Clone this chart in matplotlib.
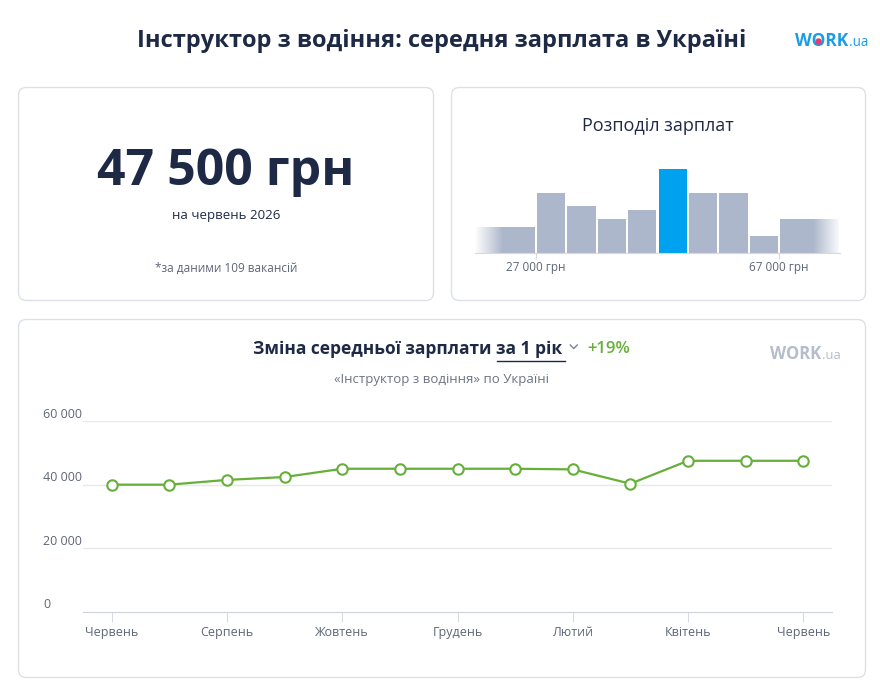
import matplotlib
matplotlib.use("Agg")
import matplotlib.pyplot as plt
import numpy as np
from matplotlib.patches import FancyBboxPatch, Circle
from matplotlib.transforms import blended_transform_factory, ScaledTranslation

plt.rcParams['font.family'] = ['Open Sans', 'DejaVu Sans']

# ---------------- data ----------------
title = "Інструктор з водіння: середня зарплата в Україні"
avg_salary_label = "47 500 грн"
period_label = "на червень 2026"
source_note = "*за даними 109 вакансій"
dist_title = "Розподіл зарплат"

bin_edges = [17000, 27000, 32000, 37000, 42000, 47000, 52000, 57000, 62000, 67000, 77000]
bin_heights = [31, 71, 56, 40, 51, 100, 71, 71, 20, 40]
highlight_bin = 5
hist_ticks = [27000, 67000]
hist_tick_labels = ["27 000 грн", "67 000 грн"]

change_title = "Зміна середньої зарплати"
period_choice = "за 1 рік"
change_pct = "+19%"
change_subtitle = "«Інструктор з водіння» по Україні"

months = ["Червень", "Липень", "Серпень", "Вересень", "Жовтень", "Листопад", "Грудень",
          "Січень", "Лютий", "Березень", "Квітень", "Травень", "Червень"]
salaries = [40000, 40000, 41500, 42400, 45000, 45000, 45000, 45000, 44800, 40300, 47500, 47500, 47500]
y_ticks = [0, 20000, 40000, 60000]
y_tick_labels = ["0", "20 000", "40 000", "60 000"]

# ---------------- styles ----------------
DARK = '#1e2a45'
GRAY_TXT = '#5d6776'
BAR_GRAY = '#adb7cb'
BAR_BLUE = '#00a2ef'
GREEN = '#66b03a'
LOGO_BLUE = '#1b9de6'

W, H = 880, 684
fig = plt.figure(figsize=(W / 100, H / 100), dpi=100)
bg = fig.add_axes([0, 0, 1, 1])
bg.set_xlim(0, W)
bg.set_ylim(H, 0)
bg.axis('off')


def card(x0, y0, x1, y1):
    p = FancyBboxPatch((x0, y0), x1 - x0, y1 - y0,
                       boxstyle="round,pad=0,rounding_size=8",
                       fc='white', ec='#dde1e7', lw=1, zorder=0)
    bg.add_patch(p)


card(18.5, 87.5, 433.5, 300.5)
card(451.5, 87.5, 865.5, 300.5)
card(18.5, 319.5, 865.5, 677.5)

# title
bg.text(442, 41, title, ha='center', va='center', fontsize=17,
        fontweight='bold', color=DARK)

fig.canvas.draw()
renderer = fig.canvas.get_renderer()


def text_width(s, size, weight):
    tmp = bg.text(0, 0, s, fontsize=size, fontweight=weight)
    w = tmp.get_window_extent(renderer).width
    tmp.remove()
    return w


def logo(x, y, size, color, dot=True):
    t1 = bg.text(x, y, "WORK", ha='left', va='center', fontsize=size,
                 fontweight='bold', color=color)
    ext = t1.get_window_extent(renderer)
    bg.text(ext.x1 + 1, y + size * 0.12, ".ua", ha='left', va='center',
            fontsize=size * 0.78, color=color)
    if dot:
        ww = text_width("W", size, 'bold')
        wo = text_width("WO", size, 'bold')
        cx = x + (ww + wo) / 2
        bg.add_patch(Circle((cx, y + 0.5), size * 0.2, color='#e8386e', zorder=5))


logo(795, 41, 12.5, LOGO_BLUE, dot=True)

# card 1
bg.text(226, 172, avg_salary_label, ha='center', va='center', fontsize=36,
        fontweight='bold', color=DARK)
bg.text(226, 215, period_label, ha='center', va='center', fontsize=9.5, color=DARK)
bg.text(226, 268, source_note, ha='center', va='center', fontsize=8.5, color=GRAY_TXT)

# card 2 - histogram
bg.text(658, 126, dist_title, ha='center', va='center', fontsize=13, color=DARK)
hx = fig.add_axes([475 / W, 1 - 253 / H, (840 - 475) / W, (253 - 169) / H])
hx.patch.set_visible(False)
gap = 330
for i, h in enumerate(bin_heights):
    left = bin_edges[i] + gap / 2
    width = bin_edges[i + 1] - bin_edges[i] - gap
    hx.bar(left, h, width=width, align='edge',
           color=BAR_BLUE if i == highlight_bin else BAR_GRAY, zorder=2)
grad = np.ones((1, 256, 4))
grad[0, :, 3] = np.linspace(1, 0, 256)
hx.imshow(grad, extent=[bin_edges[0], bin_edges[0] + 4500, 0, 100],
          aspect='auto', zorder=3, interpolation='bilinear')
grad_r = np.ones((1, 256, 4))
grad_r[0, :, 3] = np.linspace(0, 1, 256)
hx.imshow(grad_r, extent=[bin_edges[-1] - 4500, bin_edges[-1], 0, 100],
          aspect='auto', zorder=3, interpolation='bilinear')
hx.set_xlim(bin_edges[0], bin_edges[-1])
hx.set_ylim(0, 100)
for s in ['top', 'right', 'left']:
    hx.spines[s].set_visible(False)
hx.spines['bottom'].set_color('#d6dae0')
hx.spines['bottom'].set_zorder(4)
hx.set_yticks([])
hx.set_xticks(hist_ticks)
hx.set_xticklabels(hist_tick_labels)
hx.tick_params(axis='x', length=4, color='#d6dae0', labelsize=8.5,
               labelcolor=GRAY_TXT, pad=2)

# card 3 header
x = 253
t = bg.text(x, 349, change_title, ha='left', va='center', fontsize=12.5,
            fontweight='bold', color=DARK)
e = t.get_window_extent(renderer)
x = e.x1 + 5
t2 = bg.text(x, 349, period_choice, ha='left', va='center', fontsize=12.5,
             fontweight='bold', color=DARK)
e2 = t2.get_window_extent(renderer)
bg.plot([x, e2.x1 + 2], [360.5, 360.5], color=DARK, lw=1)
cx = e2.x1 + 11
bg.plot([cx - 3.5, cx, cx + 3.5], [345, 348.5, 345], color='#7a8494', lw=1)
bg.text(cx + 14, 349, change_pct, ha='left', va='center', fontsize=12,
        fontweight='semibold', color=GREEN)
bg.text(441, 380, change_subtitle, ha='center', va='center', fontsize=9.5,
        color='#6b7482')
logo(770, 354, 12, '#b4bdcb', dot=False)

# card 3 line chart
ax = fig.add_axes([83 / W, 1 - 612 / H, (832 - 83) / W, (612 - 421) / H])
ax.patch.set_visible(False)
xs = np.arange(len(months))
ax.set_xlim(-0.5, len(months) - 0.5)
ax.set_ylim(y_ticks[0], y_ticks[-1])
for v in y_ticks[1:]:
    ax.axhline(v, color='#e6e8ec', lw=1, zorder=1)
ax.plot(xs, salaries, color=GREEN, lw=1.6, marker='o', ms=7.5,
        mfc='white', mec=GREEN, mew=1.5, zorder=3, clip_on=False)
for s in ['top', 'right', 'left']:
    ax.spines[s].set_visible(False)
ax.spines['bottom'].set_color('#cdd2da')
ax.set_yticks([])
ax.set_xticks(xs[::2])
ax.set_xticklabels(months[::2])
ax.tick_params(axis='x', length=7, color='#d8dce2', labelsize=9,
               labelcolor=GRAY_TXT, pad=3)
ytr = blended_transform_factory(bg.transData, ax.transData) + \
    ScaledTranslation(0, 7 / 100, fig.dpi_scale_trans)
for v, lab in zip(y_ticks, y_tick_labels):
    ax.text(43, v, lab, transform=ytr, ha='left', va='center', fontsize=9,
            color=GRAY_TXT)

fig.savefig("out.png", dpi=100)
